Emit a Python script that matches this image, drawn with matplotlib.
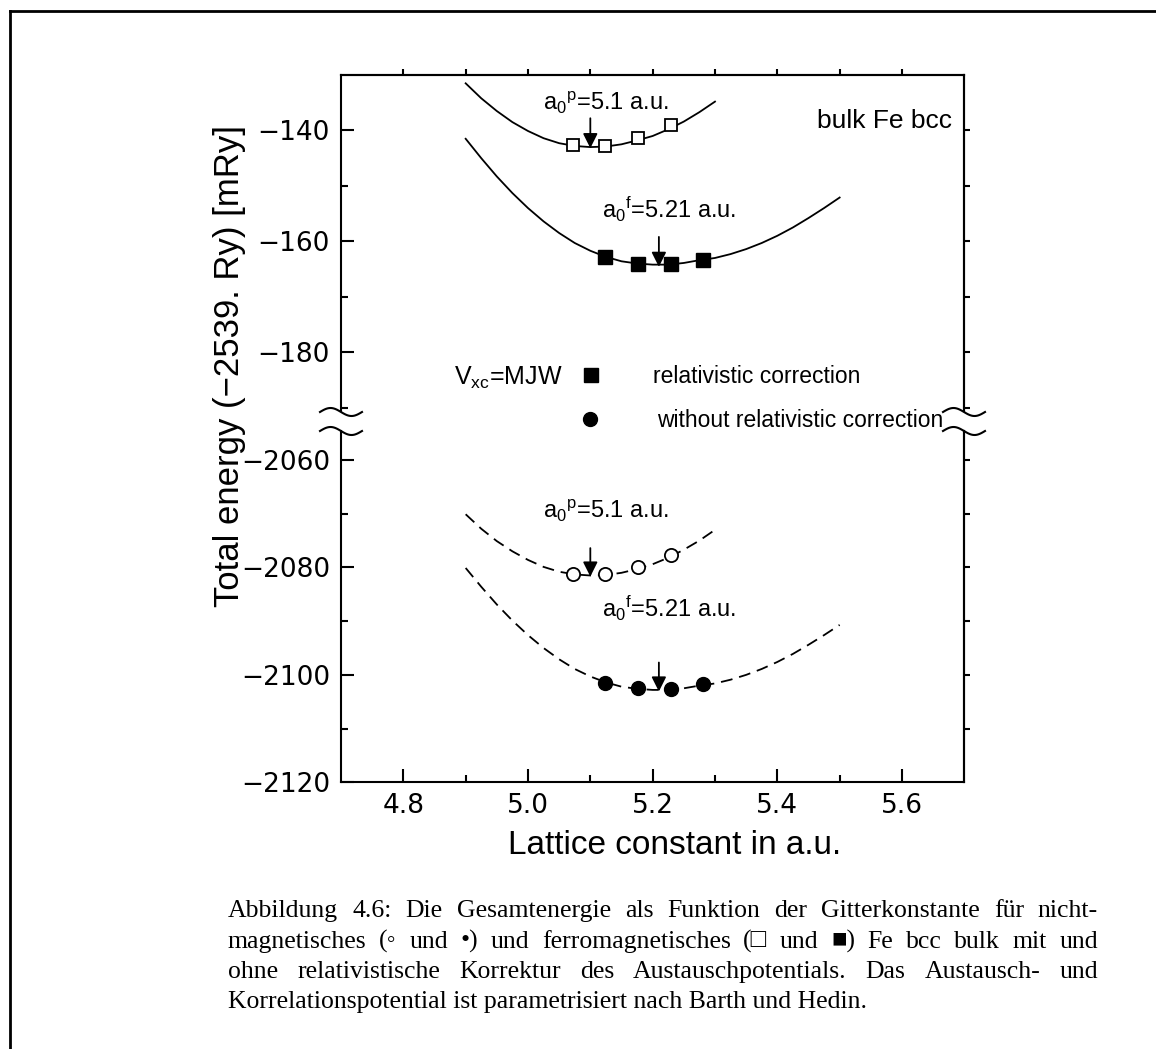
import numpy as np
import matplotlib
matplotlib.use("Agg")
import matplotlib.pyplot as plt
from matplotlib.lines import Line2D

# ---- data ----
# fitted curves, relativistic correction (upper panel, solid)
x_para = [4.900, 4.925, 4.950, 4.975, 5.000, 5.025, 5.050, 5.075, 5.100,
          5.125, 5.150, 5.175, 5.200, 5.225, 5.250, 5.275, 5.300]
e_para_rel = [-131.5, -134.2, -136.5, -138.5, -140.1, -141.4, -142.3, -142.8, -143.0,
              -142.9, -142.5, -141.8, -141.0, -139.8, -138.4, -136.7, -134.8]
x_ferro = [4.900, 4.925, 4.950, 4.975, 5.000, 5.025, 5.050, 5.075, 5.100, 5.125,
           5.150, 5.175, 5.200, 5.225, 5.250, 5.275, 5.300, 5.325, 5.350, 5.375,
           5.400, 5.425, 5.450, 5.475, 5.500]
e_ferro_rel = [-141.5, -145.0, -148.3, -151.3, -154.0, -156.4, -158.5, -160.3, -161.7, -162.8,
               -163.6, -164.0, -164.2, -164.2, -163.9, -163.4, -163.0, -162.3, -161.4, -160.3,
               -159.0, -157.5, -155.8, -154.0, -152.1]
# without relativistic correction (lower panel, dashed)
e_para_norel = [-2070.1, -2072.8, -2075.1, -2077.0, -2078.6, -2079.9, -2080.8, -2081.3, -2081.5,
                -2081.4, -2081.0, -2080.3, -2079.4, -2078.2, -2076.7, -2075.0, -2073.0]
e_ferro_norel = [-2080.1, -2083.6, -2086.9, -2089.9, -2092.6, -2095.0, -2097.1, -2098.9, -2100.3, -2101.4,
                 -2102.2, -2102.6, -2102.8, -2102.8, -2102.5, -2102.0, -2101.6, -2100.9, -2100.0, -2098.9,
                 -2097.6, -2096.1, -2094.4, -2092.6, -2090.7]

# calculated points
xp_pts = [5.073, 5.124, 5.177, 5.229]
ep_rel_pts = [-142.6, -142.75, -141.4, -139.1]
ep_norel_pts = [-2081.3, -2081.3, -2079.85, -2077.7]
xf_pts = [5.124, 5.176, 5.229, 5.280]
ef_rel_pts = [-162.9, -164.0, -164.1, -163.4]
ef_norel_pts = [-2101.45, -2102.5, -2102.7, -2101.7]

# equilibrium lattice constants (arrows)
a0_para = 5.1
a0_ferro = 5.21

caption_lines = [
    "Abbildung 4.6: Die Gesamtenergie als Funktion der Gitterkonstante für nicht-",
    "magnetisches (\u25e6 und \u2022) und ferromagnetisches (\u25a1 und \u25a0) Fe bcc bulk mit und",
    "ohne relativistische Korrektur des Austauschpotentials. Das Austausch- und",
    "Korrelationspotential ist parametrisiert nach Barth und Hedin.",
]

# ---- fonts ----
sans = "Liberation Sans"
plt.rcParams["font.family"] = ["DejaVu Sans"]
plt.rcParams["mathtext.fontset"] = "custom"
plt.rcParams["mathtext.rm"] = sans
plt.rcParams["mathtext.it"] = sans
plt.rcParams["mathtext.default"] = "rm"
plt.rcParams["lines.scale_dashes"] = False
plt.rcParams["axes.linewidth"] = 1.5

W, H = 1156, 1049
fig = plt.figure(figsize=(W / 100, H / 100), dpi=100)

left = 341 / W
width = 623.3 / W
ax_top = fig.add_axes([left, 1 - 411 / H, width, 336 / H])
ax_bot = fig.add_axes([left, 1 - 782.3 / H, width, (782.3 - 431) / H])

for ax in (ax_top, ax_bot):
    ax.set_xlim(4.7, 5.7)
    ax.set_facecolor("none")
ax_top.set_ylim(-190.6, -130)
ax_bot.set_ylim(-2120, -2054.6)

ax_top.spines["bottom"].set_visible(False)
ax_bot.spines["top"].set_visible(False)

tick_font = 19
# upper panel ticks
ax_top.set_yticks([-140, -160, -180])
ax_top.set_yticks([-150, -170, -190], minor=True)
ax_top.set_xticks([])
ax_top.tick_params(axis="y", which="major", direction="in", length=9.5, width=1.5,
                   labelsize=tick_font, pad=8)
ax_top.tick_params(axis="y", which="minor", direction="in", length=5, width=1.5)
sec = ax_top.secondary_yaxis("right")
sec.set_yticks([-140, -150, -160, -170, -180, -190])
sec.tick_params(direction="out", length=4.5, width=1.5, labelright=False)
sec.spines["right"].set_linewidth(1.5)
sec_t = ax_top.secondary_xaxis("top")
sec_t.set_xticks(np.round(np.arange(4.8, 5.65, 0.1), 1))
sec_t.tick_params(direction="out", length=4.5, width=1.5, labeltop=False)
sec_t.spines["top"].set_linewidth(1.5)

# lower panel ticks
ax_bot.set_yticks([-2060, -2080, -2100, -2120])
ax_bot.set_yticks([-2070, -2090, -2110], minor=True)
ax_bot.set_xticks([4.8, 5.0, 5.2, 5.4, 5.6])
ax_bot.set_xticks([4.9, 5.1, 5.3, 5.5], minor=True)
ax_bot.set_xticklabels(["4.8", "5.0", "5.2", "5.4", "5.6"])
ax_bot.tick_params(axis="both", which="major", direction="in", length=9.5, width=1.5,
                   labelsize=tick_font, pad=8)
ax_bot.tick_params(axis="both", which="minor", direction="in", length=5, width=1.5)
sec2 = ax_bot.secondary_yaxis("right")
sec2.set_yticks([-2060, -2070, -2080, -2090, -2100, -2110])
sec2.tick_params(direction="out", length=4.5, width=1.5, labelright=False)
sec2.spines["right"].set_linewidth(1.5)

# ---- curves and points ----
lw = 1.3
ax_top.plot(x_para, e_para_rel, color="k", lw=lw, zorder=2)
ax_top.plot(x_ferro, e_ferro_rel, color="k", lw=lw, zorder=2)
ax_top.plot(xp_pts, ep_rel_pts, ls="none", marker="s", ms=9, mfc="white", mec="k", mew=1.3, zorder=3)
ax_top.plot(xf_pts, ef_rel_pts, ls="none", marker="s", ms=9.5, mfc="k", mec="k", zorder=3)

ax_bot.plot(x_para, e_para_norel, color="k", lw=lw, dashes=(8.5, 5), zorder=2)
ax_bot.plot(x_ferro, e_ferro_norel, color="k", lw=lw, dashes=(8.5, 5), zorder=2)
ax_bot.plot(xp_pts, ep_norel_pts, ls="none", marker="o", ms=9.5, mfc="white", mec="k", mew=1.3, zorder=3)
ax_bot.plot(xf_pts, ef_norel_pts, ls="none", marker="o", ms=10, mfc="k", mec="k", zorder=3)

arrow = dict(arrowstyle="-|>", color="k", lw=1.3, mutation_scale=22, shrinkA=0, shrinkB=0)
ax_top.annotate("", xy=(a0_para, -143.2), xytext=(a0_para, -137.8), arrowprops=arrow, zorder=4)
ax_top.annotate("", xy=(a0_ferro, -164.6), xytext=(a0_ferro, -159.2), arrowprops=arrow, zorder=4)
ax_bot.annotate("", xy=(a0_para, -2081.7), xytext=(a0_para, -2076.4), arrowprops=arrow, zorder=4)
ax_bot.annotate("", xy=(a0_ferro, -2103.1), xytext=(a0_ferro, -2097.7), arrowprops=arrow, zorder=4)

tfs = 17
lab_p = r"a$_0$$^{\rm p}$=5.1 a.u."
lab_f = r"a$_0$$^{\rm f}$=5.21 a.u."
ax_top.text(5.024, -136.3, lab_p, fontsize=tfs, family=sans, va="baseline")
ax_top.text(5.118, -155.8, lab_f, fontsize=tfs, family=sans, va="baseline")
ax_bot.text(5.024, -2070.8, lab_p, fontsize=tfs, family=sans, va="baseline")
ax_bot.text(5.118, -2089.2, lab_f, fontsize=tfs, family=sans, va="baseline")
ax_top.text(5.68, -139.6, "bulk Fe bcc", fontsize=19, family=sans, ha="right", va="baseline")

# legend block
ax_top.text(0.1807, 0.0783, r"V$_{\rm xc}$=MJW", transform=ax_top.transAxes,
            fontsize=18, family=sans, va="baseline")
ax_top.plot([0.4003], [0.1077], transform=ax_top.transAxes, marker="s", ms=9.5,
            color="k", clip_on=False)
ax_top.plot([0.3992], [-0.0241], transform=ax_top.transAxes, marker="o", ms=10,
            color="k", clip_on=False)
ax_top.text(0.5012, 0.0836, "relativistic correction", transform=ax_top.transAxes,
            fontsize=16.5, family=sans, va="baseline")
ax_top.text(0.507, -0.0485, "without relativistic correction", transform=ax_top.transAxes,
            fontsize=16.5, family=sans, va="baseline")

# axis labels
fig.text(229 / W, 1 - 366 / H, "Total energy (\u22122539. Ry) [mRy]", rotation=90,
         fontsize=25, family=sans, ha="center", va="center")
fig.text(675 / W, 1 - 845 / H, "Lattice constant in a.u.", fontsize=24, family=sans,
         ha="center", va="center")

# axis break marks
def squiggle(xc, yc):
    t = np.linspace(-1, 1, 60)
    xs = (xc + 21 * t) / W
    ys = 1 - (yc + 4 * np.sin(np.pi * t)) / H
    fig.add_artist(Line2D(xs, ys, color="k", lw=1.5))

for xc in (341, 964):
    squiggle(xc, 412)
    squiggle(xc, 431)

# page frame (top and left edges)
fig.add_artist(Line2D([10 / W, 1.0], [1 - 11 / H, 1 - 11 / H], color="k", lw=2))
fig.add_artist(Line2D([10 / W, 10 / W], [0.0, 1 - 11 / H], color="k", lw=2))

# caption, justified
renderer = fig.canvas.get_renderer()
cap_x0, cap_x1 = 228, 1098
cap_y = [917, 948, 978, 1008]
cap_font = dict(fontsize=18.5, family=["Liberation Serif", "DejaVu Sans"])
for i, line in enumerate(caption_lines):
    y = 1 - cap_y[i] / H
    if i == len(caption_lines) - 1:
        fig.text(cap_x0 / W, y, line, va="baseline", **cap_font)
        continue
    words = line.split(" ")
    texts = [fig.text(0, y, w, va="baseline", **cap_font) for w in words]
    widths = [t.get_window_extent(renderer).width for t in texts]
    gap = (cap_x1 - cap_x0 - sum(widths)) / (len(words) - 1)
    xpos = cap_x0
    for t, w in zip(texts, widths):
        t.set_x(xpos / W)
        xpos += w + gap

fig.savefig("out.png", dpi=100)
